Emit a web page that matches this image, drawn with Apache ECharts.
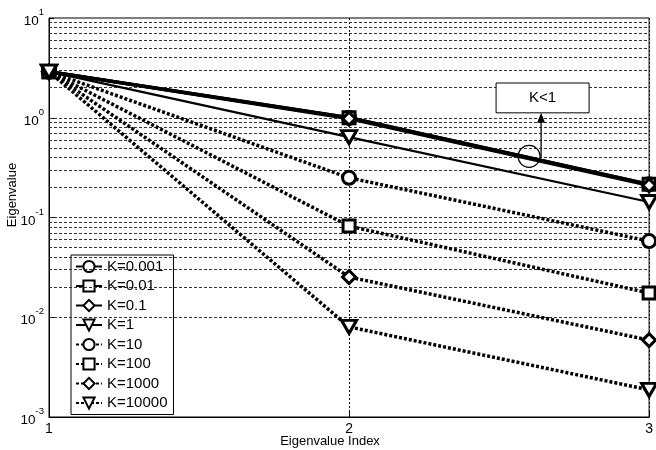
<!DOCTYPE html>
<html>
<head>
<meta charset="utf-8">
<script src="https://cdn.jsdelivr.net/npm/echarts@6/dist/echarts.min.js"></script>
<style>
  html, body { margin: 0; padding: 0; background: #fff; }
  #chart { width: 656px; height: 450px; }
</style>
</head>
<body>
<div id="chart"></div>
<script>
// Eigenvalue spectra for different K values
const eigenIndex = [1, 2, 3];
const seriesNames = ['K=0.001', 'K=0.01', 'K=0.1', 'K=1', 'K=10', 'K=100', 'K=1000', 'K=10000'];
const k0001 = [2.9, 1.0, 0.215];
const k001 = [2.9, 1.0, 0.215];
const k01 = [2.9, 0.98, 0.21];
const k1 = [2.9, 0.64, 0.143];
const k10 = [2.9, 0.25, 0.058];
const k100 = [2.9, 0.082, 0.0175];
const k1000 = [2.9, 0.0253, 0.0059];
const k10000 = [2.9, 0.008, 0.00187];
const yDecades = [0.001, 0.01, 0.1, 1, 10];
const xTicks = [1, 2, 3];
// annotation "K<1": circle around the K<1 bundle, arrow up to the label box
const noteCircle = [2.6, 0.41];
const noteArrow = { x: 2.64, from: 0.40, to: 1.12 };
const noteBox = { x0: 2.49, x1: 2.80, y0: 1.12, y1: 2.23, text: 'K<1' };

const values = [k0001, k001, k01, k1, k10, k100, k1000, k10000];
const markers = ['circle', 'rect', 'diamond', 'triangle',
                 'circle', 'rect', 'diamond', 'triangle'];
const FONT = 'Liberation Sans, Arial, sans-serif';

// minor grid levels 2..9 per decade plus the decades themselves
const gridLevels = [];
for (let d = 0; d < yDecades.length - 1; d++) {
  for (let m = 1; m <= 9; m++) {
    if (d === 0 && m === 1) continue;
    gridLevels.push(+(yDecades[d] * m).toPrecision(3));
  }
}

const chart = echarts.init(document.getElementById('chart'));

const series = seriesNames.map((name, i) => {
  const dotted = i >= 4;
  const tri = markers[i] === 'triangle';
  return {
    name: name,
    type: 'line',
    data: eigenIndex.map((x, j) => [x, values[i][j]]),
    symbol: markers[i],
    symbolSize: tri ? [15, 13] : (markers[i] === 'rect' ? 12 : 13),
    symbolRotate: tri ? 180 : 0,
    showAllSymbol: true,
    z: 5 + i,
    lineStyle: {
      color: '#000',
      width: i === 3 ? 2.2 : 3.5,
      type: dotted ? [3, 2] : 'solid'
    },
    itemStyle: { color: '#fff', borderColor: '#000', borderWidth: 3 },
    emphasis: { disabled: true },
    animation: false
  };
});

// horizontal grid lines drawn as mark lines on a carrier series
series.push({
  name: 'grid',
  type: 'line',
  data: [],
  silent: true,
  z: 1,
  markLine: {
    silent: true,
    symbol: 'none',
    label: { show: false },
    animation: false,
    lineStyle: { color: '#333', width: 1, type: [3, 2] },
    data: gridLevels.map(v => ({ yAxis: v }))
  }
});

chart.setOption({
  animation: false,
  backgroundColor: '#fff',
  textStyle: { fontFamily: FONT },
  grid: {
    left: 49, right: 4, top: 18, bottom: 33,
    show: true, borderColor: '#000', borderWidth: 1, backgroundColor: 'transparent'
  },
  xAxis: {
    type: 'value',
    min: 1, max: 3, interval: 1,
    axisLine: { lineStyle: { color: '#000', width: 1 } },
    axisTick: { inside: true, length: 5, lineStyle: { color: '#000' } },
    axisLabel: {
      color: '#000', fontSize: 14, fontFamily: FONT, margin: 5,
      formatter: v => xTicks.includes(v) ? String(v) : ''
    },
    splitLine: { show: true, lineStyle: { color: '#000', width: 1, type: [2, 2] } }
  },
  yAxis: {
    type: 'log',
    logBase: 10,
    min: 0.001, max: 10,
    axisLine: { lineStyle: { color: '#000', width: 1 } },
    axisTick: { inside: true, length: 5, lineStyle: { color: '#000' } },
    axisLabel: {
      color: '#000', margin: 5, fontFamily: FONT,
      formatter: v => '{b|10}{s|' + Math.round(Math.log10(v)) + '}',
      rich: {
        b: { fontSize: 13.5, fontFamily: FONT, color: '#000', padding: [7, 0, 0, 0] },
        s: { fontSize: 9.5, fontFamily: FONT, color: '#000', verticalAlign: 'top', padding: [0, 0, 8, 0] }
      }
    },
    splitLine: { show: false }
  },
  legend: {
    data: seriesNames,
    orient: 'vertical',
    left: 71, top: 255,
    padding: [4, 6, 4, 4],
    itemWidth: 26, itemHeight: 14, itemGap: 4.5,
    backgroundColor: '#fff',
    borderColor: '#000', borderWidth: 1,
    textStyle: { color: '#000', fontSize: 15, fontFamily: FONT },
    selectedMode: false
  },
  series: series
});

function px(x, y) { return chart.convertToPixel({ gridIndex: 0 }, [x, y]); }

const c = px(noteCircle[0], noteCircle[1]);
const a0 = px(noteArrow.x, noteArrow.from);
const a1 = px(noteArrow.x, noteArrow.to);
const b0 = px(noteBox.x0, noteBox.y1);
const b1 = px(noteBox.x1, noteBox.y0);

chart.setOption({
  graphic: [
    {
      type: 'circle', z: 50,
      shape: { cx: c[0], cy: c[1], r: 11 },
      style: { fill: 'none', stroke: '#000', lineWidth: 1.2 }
    },
    {
      type: 'line', z: 50,
      shape: { x1: a0[0], y1: a0[1], x2: a1[0], y2: a1[1] + 8 },
      style: { stroke: '#000', lineWidth: 1.3 }
    },
    {
      type: 'polygon', z: 50,
      shape: { points: [[a1[0], a1[1]], [a1[0] - 4, a1[1] + 10], [a1[0] + 4, a1[1] + 10]] },
      style: { fill: '#000' }
    },
    {
      type: 'rect', z: 50,
      shape: { x: b0[0], y: b0[1], width: b1[0] - b0[0], height: b1[1] - b0[1] },
      style: { fill: '#fff', stroke: '#000', lineWidth: 1 }
    },
    {
      type: 'text', z: 51,
      x: (b0[0] + b1[0]) / 2, y: (b0[1] + b1[1]) / 2,
      style: { text: noteBox.text, fill: '#000', font: '15px ' + FONT, align: 'center', verticalAlign: 'middle' }
    },
    {
      type: 'text', z: 51,
      x: 12, y: 195, rotation: Math.PI / 2,
      style: { text: 'Eigenvalue', fill: '#000', font: '13px ' + FONT, align: 'center', verticalAlign: 'middle' }
    },
    {
      type: 'text', z: 51,
      x: 330, y: 441,
      style: { text: 'Eigenvalue Index', fill: '#000', font: '13px ' + FONT, align: 'center', verticalAlign: 'middle' }
    }
  ]
});
</script>
</body>
</html>
